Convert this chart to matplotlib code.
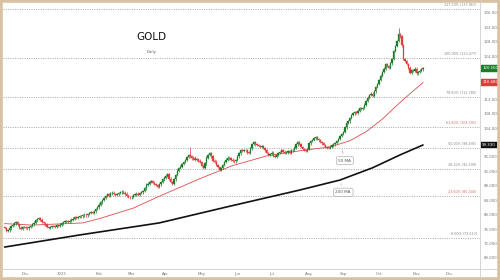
import matplotlib
matplotlib.use("Agg")
import matplotlib.pyplot as plt
import numpy as np
import pandas as pd
from matplotlib.lines import Line2D
from matplotlib.patches import Rectangle

# ---------------- data ----------------
start_date = "2024-11-13"
end_date = "2025-11-07"
axis_end_date = "2025-12-31"

closes_nov24 = [76.3, 75.4, 75.6, 76.2, 76.8, 77.2, 77.6, 78.0, 77.3, 76.4, 76.0, 76.5, 76.6]
closes_dec24 = [76.4, 76.2, 76.6, 76.8, 77.3, 77.8, 78.4, 78.8, 79.0, 78.6, 77.9, 77.6, 77.2,
                76.5, 76.3, 76.6, 76.8, 76.9, 76.7, 77.0, 76.8, 77.2]
closes_jan25 = [77.6, 77.9, 78.1, 78.2, 78.0, 78.3, 78.6, 78.9, 79.3, 79.1, 79.4, 79.6, 79.5,
                79.8, 80.0, 79.8, 80.2, 80.5, 80.7, 80.4, 80.9, 81.5, 82.0]
closes_feb25 = [82.8, 83.4, 84.0, 84.6, 85.2, 85.6, 85.3, 85.9, 86.1, 85.7, 85.4, 85.6, 86.0,
                86.2, 86.4, 86.1, 85.8, 85.3, 84.9, 84.8]
closes_mar25 = [85.0, 85.4, 85.6, 85.8, 85.5, 86.0, 86.2, 86.5, 87.3, 88.3, 88.6, 89.0, 89.2,
                88.9, 88.5, 88.2, 87.8, 88.4, 89.1, 89.8, 90.3]
closes_apr25 = [90.8, 91.2, 90.0, 89.0, 88.6, 89.8, 91.0, 92.2, 93.0, 93.3, 94.0, 94.6, 95.2,
                96.0, 96.6, 96.2, 95.6, 95.8, 95.2, 95.4, 95.0, 94.6]
closes_may25 = [93.6, 93.0, 94.2, 95.8, 96.6, 97.1, 96.2, 95.0, 94.7, 93.8, 93.2, 92.5, 93.0,
                93.8, 94.6, 95.3, 95.8, 95.6, 95.3, 95.0, 94.8, 95.2]
closes_jun25 = [96.2, 97.0, 98.0, 97.6, 98.0, 97.8, 97.2, 97.1, 98.4, 99.6, 100.2, 99.5, 99.3,
                99.0, 98.8, 99.0, 98.5, 97.8, 97.1, 96.5, 96.8]
closes_jul25 = [97.2, 96.4, 96.0, 96.6, 97.1, 97.4, 97.8, 97.5, 97.1, 97.3, 97.6, 97.2, 97.8,
                98.0, 98.6, 99.5, 100.2, 99.6, 98.8, 98.2, 98.0, 97.6, 98.2]
closes_aug25 = [99.8, 100.4, 100.7, 101.2, 101.5, 101.0, 100.6, 100.2, 99.8, 99.3, 98.8, 98.6,
                98.5, 98.9, 99.2, 99.5, 99.9, 100.4, 101.0, 101.8, 102.4]
closes_sep25 = [103.0, 104.2, 105.5, 105.9, 106.8, 107.6, 108.1, 108.4, 108.2, 108.9, 109.5,
                109.3, 109.6, 110.5, 111.6, 112.5, 113.2, 113.6, 113.0, 114.2, 115.4, 116.3]
closes_oct25 = [117.4, 118.6, 119.6, 120.5, 121.8, 121.2, 120.7, 122.0, 123.2, 125.4, 126.8,
                128.2, 130.1, 129.5, 127.0, 123.2, 122.6, 121.8, 120.8, 119.4, 120.2, 119.9, 120.5]
closes_nov25 = [119.2, 119.6, 120.0, 120.3, 120.56]

first_open = 76.6
special_highs = {114: 98.8, 242: 131.7, 244: 129.8}

ma50_idx = [0, 17, 48, 59, 79, 95, 120, 140, 161, 181, 200, 212, 222, 232, 243, 257]
ma50_val = [77.5, 77.1, 77.7, 79.0, 81.8, 85.1, 90.0, 93.6, 96.3, 97.7, 98.8, 100.5, 103.0,
            106.5, 111.2, 116.68]
ma200_idx = [0, 46, 95, 138, 181, 206, 226, 243, 257]
ma200_val = [71.0, 74.35, 77.7, 82.3, 86.8, 89.6, 93.0, 96.6, 99.33]

fib_pcts = ["127.20%", "100.00%", "78.60%", "61.80%", "50.00%", "38.20%", "23.60%", "0.00%"]
fib_prices = [137.067, 123.477, 112.785, 104.391, 98.495, 92.599, 85.304, 73.513]
fib_red = ["61.80%", "23.60%"]

# tick labels at 100, 116 and 120 are covered by the price tags in the reference
y_ticks = [68, 72, 76, 80, 84, 88, 92, 96, 104, 108, 112, 124, 128, 132, 136]
month_labels = ["Dec", "2025", "Feb", "Mar", "Apr", "May", "Jun", "Jul", "Aug", "Sep", "Oct",
                "Nov", "Dec"]

title = "GOLD"
subtitle = "Daily"

# ---------------- build ----------------
closes = np.array(closes_nov24 + closes_dec24 + closes_jan25 + closes_feb25 + closes_mar25 +
                  closes_apr25 + closes_may25 + closes_jun25 + closes_jul25 + closes_aug25 +
                  closes_sep25 + closes_oct25 + closes_nov25)
dates = pd.bdate_range(start_date, end_date)
n = min(len(dates), len(closes))
closes = closes[:n]
opens = np.concatenate([[first_open], closes[:-1]])
idx = np.arange(n)
wick = 0.35
highs = np.maximum(opens, closes) + wick
lows = np.minimum(opens, closes) - wick
for k, v in special_highs.items():
    if k < n:
        highs[k] = v

all_dates = pd.bdate_range(start_date, axis_end_date)
month_pos = [i for i in range(1, len(all_dates)) if all_dates[i].month != all_dates[i - 1].month]

GREEN = "#1e7b2a"
RED = "#e33b3b"
GRAY_TXT = "#777777"

fig = plt.figure(figsize=(5, 2.8), dpi=100)
fig.patch.set_facecolor("white")
ax = fig.add_axes([0.006, 0.0393, 0.954, 0.95])
ax.set_facecolor("white")

ax.set_xlim(-1, 292)
ax.set_ylim(64.91, 138.74)

# fib lines
for pct, price in zip(fib_pcts, fib_prices):
    ax.axhline(price, color="#9a9a9a", lw=0.6, ls=(0, (1.2, 1.6)), zorder=1)
    col = "#e06a6a" if pct in fib_red else "#888888"
    ax.text(290, price + 0.5, f"{pct} ({price:.3f})", ha="right", va="bottom",
            fontsize=2.4, color=col, zorder=2)

# moving averages
ax.plot(ma200_idx, ma200_val, color="#111111", lw=1.2, zorder=3, solid_capstyle="round")
ax.plot(ma50_idx, ma50_val, color="#e04a4a", lw=0.6, zorder=3)

# candles
up = closes >= opens
colors = np.where(up, GREEN, RED)
ax.vlines(idx, lows, highs, colors=colors, lw=0.5, zorder=4)
body_h = np.abs(closes - opens)
body_h = np.maximum(body_h, 0.15)
ax.bar(idx, body_h, bottom=np.minimum(opens, closes), width=0.8, color=colors,
       edgecolor=colors, lw=0.2, zorder=5)

# callouts
box = dict(boxstyle="round,pad=0.5", fc="white", ec="#b0b0b0", lw=0.5)
ax.annotate("50 MA", xy=(207, 98.6), xytext=(209, 95.0), ha="center", va="center",
            fontsize=3, color="#555555", bbox=box,
            arrowprops=dict(arrowstyle="-", color="#b0b0b0", lw=0.5), zorder=6)
ax.annotate("200 MA", xy=(206, 89.4), xytext=(208, 86.2), ha="center", va="center",
            fontsize=3, color="#555555", bbox=box,
            arrowprops=dict(arrowstyle="-", color="#b0b0b0", lw=0.5), zorder=6)

# title
ax.text(90, 129.3, title, ha="center", va="center", fontsize=7.5, color="#111111",
        family=["Liberation Sans Narrow", "DejaVu Sans"])
ax.text(90, 125.1, subtitle, ha="center", va="center", fontsize=2.8, color="#555555")

# axes
for s in ax.spines.values():
    s.set_visible(False)
ax.yaxis.tick_right()
ax.set_yticks(y_ticks)
ax.set_yticklabels([f"{v:.3f}" for v in y_ticks])
ax.tick_params(axis="y", length=0, pad=2.5, labelsize=2.8, labelcolor=GRAY_TXT)
ax.set_xticks(month_pos)
ax.set_xticklabels(month_labels[:len(month_pos)])
ax.tick_params(axis="x", length=0, pad=2.2, labelsize=2.8, labelcolor=GRAY_TXT)

# frame lines
fig.add_artist(Line2D([480 / 500, 480 / 500], [3 / 280, 1], transform=fig.transFigure,
                      color="#cfcfcf", lw=0.6))
fig.add_artist(Line2D([0, 497 / 500], [11 / 280, 11 / 280], transform=fig.transFigure,
                      color="#cfcfcf", lw=0.6))

# price tags
tags = [(closes[-1], GREEN), (ma50_val[-1], RED), (ma200_val[-1], "#111111")]
for val, col in tags:
    ax.text(1.0045, val, f"{val:.3f}", transform=ax.get_yaxis_transform(), ha="left",
            va="center", fontsize=2.8, color="white",
            bbox=dict(boxstyle="square,pad=0.35", fc=col, ec=col, lw=0.3), zorder=10,
            clip_on=False)

# outer border
fig.add_artist(Rectangle((0, 0), 1, 1, transform=fig.transFigure, fill=False,
                         ec="#d8c2a2", lw=4))

fig.savefig("out.png", dpi=100, facecolor="white")
